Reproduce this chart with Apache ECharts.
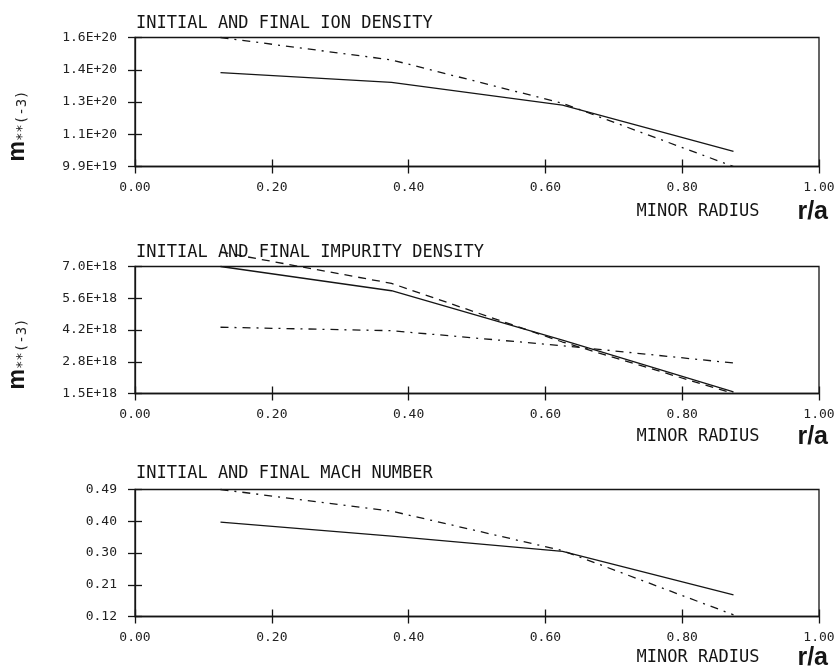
<!DOCTYPE html>
<html>
<head>
<meta charset="utf-8">
<title>Initial and final profiles</title>
<script src="https://cdn.jsdelivr.net/npm/echarts@6/dist/echarts.min.js"></script>
<style>
  html, body { margin: 0; padding: 0; background: #fff; }
  #chart { width: 838px; height: 667px; }
</style>
</head>
<body>
<div id="chart"></div>
<script>
// radial points (r/a) of every profile
const radius = [0.125, 0.375, 0.625, 0.875]

// ion density, m**(-3)
const ionSolid = [1.434e20, 1.388e20, 1.28e20, 1.061e20]
const ionDashDot = [1.6e20, 1.494e20, 1.289e20, 0.99e20]
const ionRange = [0.99e20, 1.6e20]
const ionLabels = ['9.9E+19', '1.1E+20', '1.3E+20', '1.4E+20', '1.6E+20']

// impurity density, m**(-3)
const impSolid = [7.0e18, 5.95e18, 3.81e18, 1.57e18]
const impDashed = [7.63e18, 6.27e18, 3.73e18, 1.5e18]
const impDashDot = [4.37e18, 4.22e18, 3.57e18, 2.82e18]
const impRange = [1.5e18, 7.0e18]
const impLabels = ['1.5E+18', '2.8E+18', '4.2E+18', '5.6E+18', '7.0E+18']

// mach number
const machSolid = [0.395, 0.354, 0.31, 0.183]
const machDashDot = [0.49, 0.427, 0.312, 0.125]
const machRange = [0.12, 0.49]
const machLabels = ['0.12', '0.21', '0.30', '0.40', '0.49']

const titles = [
  'INITIAL AND FINAL ION DENSITY',
  'INITIAL AND FINAL IMPURITY DENSITY',
  'INITIAL AND FINAL MACH NUMBER'
]

const INK = '#151515'
const MONO = 'DejaVu Sans Mono'
const SOLID = 'solid'
const DASHED = [8, 6]
const DASHDOT = [8, 6, 2, 6]

// layout of the three frames
const frames = [
  { top: 37.5, height: 129, titleTop: 15, nameDrop: 33 },
  { top: 266.5, height: 127, titleTop: 244, nameDrop: 31 },
  { top: 489.5, height: 127, titleTop: 465, nameDrop: 29 }
]

const panels = [
  { range: ionRange, labels: ionLabels, unit: true, lines: [[ionSolid, SOLID], [ionDashDot, DASHDOT]] },
  { range: impRange, labels: impLabels, unit: true, lines: [[impSolid, SOLID], [impDashed, DASHED], [impDashDot, DASHDOT]] },
  { range: machRange, labels: machLabels, unit: false, lines: [[machSolid, SOLID], [machDashDot, DASHDOT]] }
]

const axisLine = { show: true, lineStyle: { color: INK, width: 1.3 } }
const tickLine = { color: INK, width: 1.3 }
const labelFont = { fontFamily: MONO, fontSize: 13, color: '#222' }

const option = {
  animation: false,
  backgroundColor: '#fff',
  title: [],
  grid: [],
  xAxis: [],
  yAxis: [],
  series: []
}

panels.forEach((p, i) => {
  const f = frames[i]
  const step = (p.range[1] - p.range[0]) / 4
  const ticks = p.labels.map((_, k) => p.range[0] + k * step)
  const yLabel = v => {
    let best = 0
    ticks.forEach((t, k) => { if (Math.abs(t - v) < Math.abs(ticks[best] - v)) best = k })
    return p.labels[best]
  }

  option.title.push({
    text: titles[i],
    left: 136,
    top: f.titleTop,
    padding: 0,
    textStyle: { fontFamily: MONO, fontSize: 17, fontWeight: 'normal', color: INK }
  })

  option.grid.push({
    left: 135,
    right: 19,
    top: f.top,
    height: f.height,
    show: true,
    borderColor: INK,
    borderWidth: 1.3,
    outerBoundsMode: 'none'
  })

  // main axes: line, outward ticks, labels
  option.xAxis.push({
    gridIndex: i,
    type: 'value',
    position: 'bottom',
    offset: 0,
    min: 0,
    max: 1,
    interval: 0.2,
    axisLine: axisLine,
    axisTick: { show: true, length: 7, lineStyle: tickLine },
    axisLabel: Object.assign({ margin: 15, formatter: v => v.toFixed(2) }, labelFont),
    splitLine: { show: false },
    name: '{t|MINOR RADIUS}{r|r/a}',
    nameLocation: 'end',
    nameGap: 9,
    nameMoveOverlap: false,
    nameTextStyle: {
      align: 'right',
      verticalAlign: 'top',
      padding: [f.nameDrop, 0, 0, 0],
      rich: {
        t: { fontFamily: MONO, fontSize: 17, color: INK },
        r: { fontFamily: 'Liberation Sans', fontWeight: 'bold', fontSize: 25, color: INK, padding: [0, 0, 0, 38] }
      }
    }
  })
  // second x axis only for the inward half of the ticks
  option.xAxis.push({
    gridIndex: i,
    type: 'value',
    position: 'bottom',
    offset: 0,
    min: 0,
    max: 1,
    interval: 0.2,
    axisLine: { show: false },
    axisTick: { show: true, inside: true, length: 7, lineStyle: tickLine },
    axisLabel: { show: false },
    splitLine: { show: false }
  })

  const yMain = {
    gridIndex: i,
    type: 'value',
    position: 'left',
    offset: 0,
    min: p.range[0],
    max: p.range[1],
    axisLine: axisLine,
    axisTick: { show: true, length: 7, lineStyle: tickLine, customValues: ticks },
    axisLabel: Object.assign({ margin: 18, customValues: ticks, formatter: yLabel }, labelFont),
    splitLine: { show: false }
  }
  if (p.unit) {
    Object.assign(yMain, {
      name: '{m|m}{s|**(-3)}',
      nameLocation: 'middle',
      nameRotate: 90,
      nameGap: 106,
      nameMoveOverlap: false,
      nameTextStyle: {
        padding: [0, 48, 0, 0],
        rich: {
          m: { fontFamily: 'Liberation Sans', fontWeight: 'bold', fontSize: 23, color: INK, verticalAlign: 'bottom' },
          s: { fontFamily: MONO, fontSize: 14, color: '#222', verticalAlign: 'bottom' }
        }
      }
    })
  }
  option.yAxis.push(yMain)
  option.yAxis.push({
    gridIndex: i,
    type: 'value',
    position: 'left',
    offset: 0,
    min: p.range[0],
    max: p.range[1],
    axisLine: { show: false },
    axisTick: { show: true, inside: true, length: 7, lineStyle: tickLine, customValues: ticks },
    axisLabel: { show: false },
    splitLine: { show: false }
  })

  p.lines.forEach(([vals, dash]) => {
    option.series.push({
      type: 'line',
      xAxisIndex: 2 * i,
      yAxisIndex: 2 * i,
      data: radius.map((r, k) => [r, vals[k]]),
      symbol: 'none',
      clip: false,
      lineStyle: { color: INK, width: 1.3, type: dash }
    })
  })
})

const myChart = echarts.init(document.getElementById('chart'), null, { renderer: 'canvas' })
myChart.setOption(option)
</script>
</body>
</html>
